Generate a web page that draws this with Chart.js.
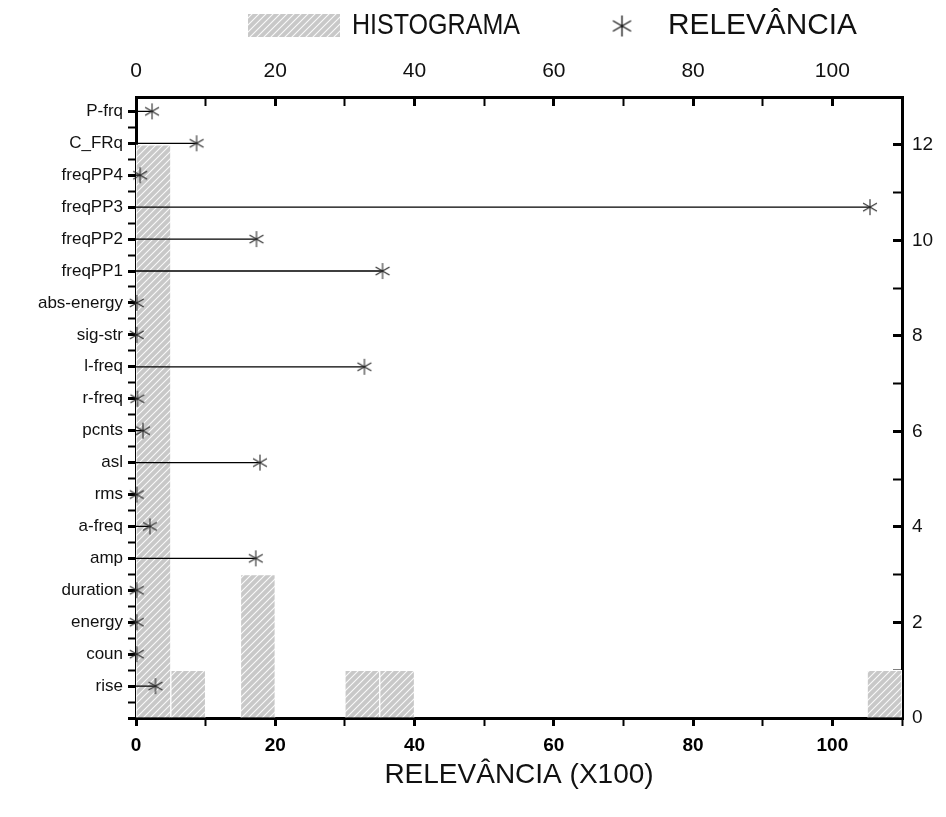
<!DOCTYPE html>
<html>
<head>
<meta charset="utf-8">
<script src="https://cdn.jsdelivr.net/npm/chart.js@4/dist/chart.umd.min.js"></script>
<style>
html,body{margin:0;padding:0;background:#fff;}
#wrap{width:946px;height:817px;position:relative;}
</style>
</head>
<body>
<div id="wrap"><canvas id="c" width="946" height="817"></canvas></div>
<script>
// ---- data ----
const categories = ['P-frq','C_FRq','freqPP4','freqPP3','freqPP2','freqPP1','abs-energy','sig-str','l-freq','r-freq','pcnts','asl','rms','a-freq','amp','duration','energy','coun','rise'];
const relevance = [2.3, 8.7, 0.6, 105.4, 17.3, 35.4, 0.1, 0.1, 32.8, 0.2, 1.0, 17.8, 0.1, 2.0, 17.2, 0.1, 0.1, 0.1, 2.8];
const histBinStart = [0, 5, 15, 30, 35, 105];
const histCount = [12, 1, 3, 1, 1, 1];
const binWidth = 5;
const xTickLabels = [0, 20, 40, 60, 80, 100];
const countTickLabels = [0, 2, 4, 6, 8, 10, 12];
const legendLabels = ['HISTOGRAMA', 'RELEVÂNCIA'];
const xTitle = 'RELEVÂNCIA (X100)';

// ---- helpers ----
const n = categories.length;
const posOf = i => n - i;

function makePattern() {
  const p = document.createElement('canvas');
  p.width = 7; p.height = 7;
  const g = p.getContext('2d');
  g.fillStyle = '#c8c8c8';
  g.fillRect(0, 0, 7, 7);
  g.strokeStyle = 'rgba(255,255,255,0.9)';
  g.lineWidth = 1.1;
  g.beginPath();
  g.moveTo(-1, 8); g.lineTo(8, -1);
  g.moveTo(-4.5, 4.5); g.lineTo(4.5, -4.5);
  g.moveTo(2.5, 11.5); g.lineTo(11.5, 2.5);
  g.stroke();
  return document.getElementById('c').getContext('2d').createPattern(p, 'repeat');
}
function makeStar(size, color, lw) {
  const s = document.createElement('canvas');
  s.width = size; s.height = size;
  const g = s.getContext('2d');
  const c = size / 2, r = size / 2 - 1;
  g.strokeStyle = color;
  g.lineWidth = lw;
  g.beginPath();
  for (const a of [90, 30, 150]) {
    const rad = a * Math.PI / 180;
    g.moveTo(c - r * Math.cos(rad), c - r * Math.sin(rad));
    g.lineTo(c + r * Math.cos(rad), c + r * Math.sin(rad));
  }
  g.stroke();
  return s;
}
const pattern = makePattern();
const starImg = makeStar(18, '#2a2a2a', 1.1);
const starLegend = makeStar(23, '#111', 1.3);

const histData = histBinStart.map((s, i) => ({x: s + binWidth / 2, y: histCount[i]}));
const stemData = [];
relevance.forEach((v, i) => {
  stemData.push({x: 0, y: posOf(i)});
  stemData.push({x: v, y: posOf(i)});
  stemData.push({x: v, y: null});
});
const starData = relevance.map((v, i) => ({x: v, y: posOf(i)}));

const legendPlugin = {
  id: 'customLegend',
  afterDraw(chart) {
    const ctx = chart.ctx;
    ctx.save();
    ctx.fillStyle = chart.data.datasets[0].backgroundColor;
    ctx.fillRect(248, 14, 92, 23);
    ctx.font = '29px "Liberation Sans Narrow", "Liberation Sans", Arial, sans-serif';
    ctx.fillStyle = '#111';
    ctx.textBaseline = 'middle';
    const drawFit = (txt, x, y, w) => {
      const m = ctx.measureText(txt).width;
      ctx.save();
      ctx.translate(x, y);
      ctx.scale(w / m, 1);
      ctx.fillText(txt, 0, 0);
      ctx.restore();
    };
    drawFit(legendLabels[0], 352, 26, 168);
    ctx.drawImage(starLegend, 622 - 11.5, 26 - 11.5);
    drawFit(legendLabels[1], 668, 26, 189);
    ctx.restore();
  }
};

const axisBorder = {display: true, color: '#000', width: 3};
const tickFontBase = {family: '"Liberation Sans", Arial, sans-serif'};

new Chart(document.getElementById('c'), {
  type: 'scatter',
  data: {
    datasets: [
      {
        type: 'bar',
        label: legendLabels[0],
        data: histData,
        xAxisID: 'x',
        yAxisID: 'yR',
        backgroundColor: pattern,
        borderColor: '#ffffff',
        borderWidth: 1,
        barPercentage: 1,
        categoryPercentage: 1,
        order: 3
      },
      {
        type: 'line',
        label: 'stems',
        data: stemData,
        xAxisID: 'x',
        yAxisID: 'y',
        borderColor: '#000',
        borderWidth: 1.3,
        pointRadius: 0,
        spanGaps: false,
        fill: false,
        order: 2
      },
      {
        type: 'scatter',
        label: legendLabels[1],
        data: starData,
        xAxisID: 'x',
        yAxisID: 'y',
        pointStyle: starImg,
        pointRadius: 9,
        clip: false,
        order: 1
      }
    ]
  },
  options: {
    responsive: false,
    animation: false,
    events: [],
    layout: {padding: {top: 45, left: 0, right: 0, bottom: 0}},
    plugins: {legend: {display: false}, tooltip: {enabled: false}},
    scales: {
      x: {
        type: 'linear', position: 'bottom', min: 0, max: 110, offset: false,
        border: axisBorder,
        grid: {drawOnChartArea: false, drawTicks: true, offset: false, tickLength: 8, tickColor: '#000',
               tickWidth: c => (c.tick && c.tick.value % 20 === 0) ? 3 : 2},
        ticks: {stepSize: 10, autoSkip: false, maxRotation: 0, padding: 8, color: '#000',
                font: Object.assign({size: 19, weight: 'bold'}, tickFontBase),
                callback: v => xTickLabels.includes(v) ? String(v) : ''},
        title: {display: true, text: xTitle, color: '#111',
                font: Object.assign({size: 28}, tickFontBase), padding: {top: 10, bottom: 25}},
        afterFit: s => { s.height = 99; }
      },
      x2: {
        type: 'linear', position: 'top', min: 0, max: 110, offset: false,
        border: axisBorder,
        grid: {drawOnChartArea: false, drawTicks: true, tickLength: -9, tickColor: '#000',
               tickWidth: c => (c.tick && c.tick.value % 20 === 0) ? 3 : 2},
        ticks: {stepSize: 10, autoSkip: false, maxRotation: 0, padding: 22, color: '#111',
                font: {size: 21, family: '"Liberation Sans Narrow", "Liberation Sans", Arial, sans-serif'},
                callback: v => xTickLabels.includes(v) ? String(v) : ''},
        afterFit: s => { s.height = 52; }
      },
      y: {
        type: 'linear', position: 'left', min: 0, max: 19.45,
        border: axisBorder,
        grid: {drawOnChartArea: false, drawTicks: true, tickLength: 8, tickColor: '#000',
               tickWidth: c => (c.tick && Number.isInteger(c.tick.value)) ? 3 : 2},
        ticks: {stepSize: 0.5, includeBounds: false, autoSkip: false, padding: 5, color: '#111',
                font: Object.assign({size: 17}, tickFontBase),
                callback: v => {
                  if (!Number.isInteger(v)) return '';
                  const i = n - v;
                  return (i >= 0 && i < n) ? categories[i] : '';
                }},
        afterFit: s => { s.width = 136; }
      },
      yR: {
        type: 'linear', position: 'right', min: 0, max: 13,
        border: axisBorder,
        grid: {drawOnChartArea: false, drawTicks: true, tickLength: -9, tickColor: '#000',
               tickWidth: c => (c.tick && c.tick.value % 2 === 0) ? 3 : 2},
        ticks: {stepSize: 1, autoSkip: false, padding: 19, color: '#111',
                font: Object.assign({size: 19}, tickFontBase),
                callback: v => countTickLabels.includes(v) ? String(v) : ''},
        afterFit: s => { s.width = 44; }
      }
    }
  },
  plugins: [legendPlugin]
});
</script>
</body>
</html>
